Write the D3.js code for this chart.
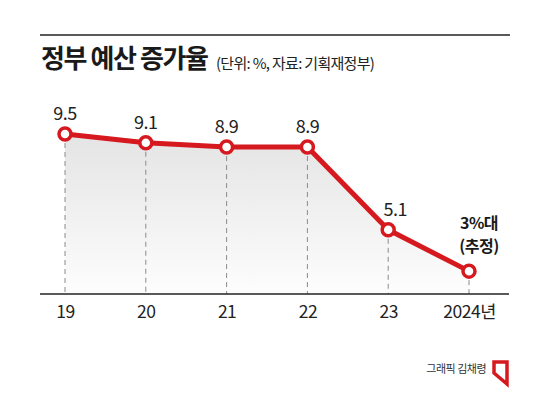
<!DOCTYPE html>
<html>
<head>
<meta charset="utf-8">
<script src="https://cdn.jsdelivr.net/npm/d3@7"></script>
<style>
    body { margin: 0; background: #fff; }
    svg { display: block; font-family: "Noto Sans CJK KR", "Noto Sans", sans-serif; }
</style>
</head>
<body>
<div id="chart"></div>
<script>
// data
var years = ["19", "20", "21", "22", "23", "2024년"];
var rates = [9.5, 9.1, 8.9, 8.9, 5.1, 3.2];
var rateLabels = ["9.5", "9.1", "8.9", "8.9", "5.1", null];
var lastLabel = ["3%대", "(추정)"];

var svgWidth = 550;
var svgHeight = 393;
var red = "#d6181f";

var svg = d3.select("#chart")
    .append("svg")
    .attr("width", svgWidth)
    .attr("height", svgHeight);

// top rule + titles
svg.append("line")
    .attr("x1", 40).attr("x2", 510)
    .attr("y1", 35).attr("y2", 35)
    .attr("stroke", "#222")
    .attr("stroke-width", 1.5);

svg.append("text")
    .attr("x", 41)
    .attr("y", 68)
    .attr("font-size", 26)
    .attr("font-weight", 700)
    .attr("letter-spacing", -1.4)
    .attr("fill", "#1a1a1a")
    .text("정부 예산 증가율");

svg.append("text")
    .attr("x", 216)
    .attr("y", 69)
    .attr("font-size", 15)
    .attr("letter-spacing", -0.7)
    .attr("fill", "#222")
    .text("(단위: %, 자료: 기획재정부)");

// scales
var x = d3.scalePoint()
    .domain(years)
    .range([65, 469]);

var y = d3.scaleLinear()
    .domain([2.15, 9.5])
    .range([294, 134]);

var data = years.map((d, i) => ({ year: d, rate: rates[i], label: rateLabels[i] }));

// grey gradient area
var defs = svg.append("defs");
var grad = defs.append("linearGradient")
    .attr("id", "areaFill")
    .attr("x1", 0).attr("x2", 0)
    .attr("y1", 0).attr("y2", 1);
grad.append("stop").attr("offset", "0%").attr("stop-color", "#e4e4e4");
grad.append("stop").attr("offset", "100%").attr("stop-color", "#fdfdfd");

var area = d3.area()
    .x(d => x(d.year))
    .y0(y.range()[0])
    .y1(d => y(d.rate));

svg.append("path")
    .datum(data)
    .attr("d", area)
    .attr("fill", "url(#areaFill)");

// dashed drop lines
svg.selectAll(".drop")
    .data(data)
    .enter()
    .append("line")
    .attr("class", "drop")
    .attr("x1", d => x(d.year))
    .attr("x2", d => x(d.year))
    .attr("y1", d => y(d.rate))
    .attr("y2", y.range()[0])
    .attr("stroke", "#8a8a8a")
    .attr("stroke-width", 1)
    .attr("stroke-dasharray", "5,4");

// baseline
svg.append("line")
    .attr("x1", 40).attr("x2", 509)
    .attr("y1", y.range()[0]).attr("y2", y.range()[0])
    .attr("stroke", "#222")
    .attr("stroke-width", 1.5);

// x axis labels
var xAxis = d3.axisBottom(x).tickSize(0).tickPadding(0);
var gx = svg.append("g")
    .attr("transform", `translate(0, ${y.range()[0]})`)
    .call(xAxis);
gx.select(".domain").remove();
gx.selectAll("text")
    .attr("dy", null)
    .attr("y", 24)
    .attr("font-family", "Noto Sans CJK KR")
    .attr("font-size", 17.5)
    .attr("letter-spacing", -0.5)
    .attr("fill", "#222");

// line
var line = d3.line()
    .x(d => x(d.year))
    .y(d => y(d.rate));

svg.append("path")
    .datum(data)
    .attr("d", line)
    .attr("fill", "none")
    .attr("stroke", red)
    .attr("stroke-width", 5)
    .attr("stroke-linejoin", "round");

svg.selectAll(".dot")
    .data(data)
    .enter()
    .append("circle")
    .attr("class", "dot")
    .attr("cx", d => x(d.year))
    .attr("cy", d => y(d.rate))
    .attr("r", 6)
    .attr("fill", "#fff")
    .attr("stroke", red)
    .attr("stroke-width", 3.5);

// value labels
svg.selectAll(".val")
    .data(data.filter(d => d.label))
    .enter()
    .append("text")
    .attr("class", "val")
    .attr("x", d => x(d.year) + (d.rate < 6 ? 7 : 0))
    .attr("y", d => y(d.rate) - 14)
    .attr("text-anchor", "middle")
    .attr("font-size", 18)
    .attr("letter-spacing", -0.5)
    .attr("fill", "#222")
    .text(d => d.label);

var last = data[data.length - 1];
svg.selectAll(".lastLabel")
    .data(lastLabel)
    .enter()
    .append("text")
    .attr("class", "lastLabel")
    .attr("x", x(last.year) + 10)
    .attr("y", (d, i) => 229 + i * 23)
    .attr("text-anchor", "middle")
    .attr("font-size", 16)
    .attr("font-weight", 700)
    .attr("letter-spacing", -0.5)
    .attr("fill", "#1a1a1a")
    .text(d => d);

// credit
svg.append("text")
    .attr("x", 486)
    .attr("y", 373)
    .attr("text-anchor", "end")
    .attr("font-size", 11)
    .attr("letter-spacing", -0.5)
    .attr("fill", "#333")
    .text("그래픽 김채령");

svg.append("polygon")
    .attr("points", "494,362 507,362 507,384 494,373")
    .attr("fill", "none")
    .attr("stroke", red)
    .attr("stroke-width", 3.5)
    .attr("stroke-linejoin", "miter");
</script>
</body>
</html>
